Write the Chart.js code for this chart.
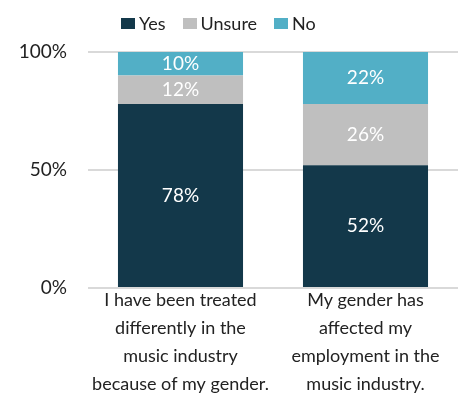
<!DOCTYPE html>
<html>
<head>
<meta charset="utf-8">
<script src="https://cdn.jsdelivr.net/npm/chart.js@4/dist/chart.umd.min.js"></script>
<style>
  html, body { margin: 0; padding: 0; background: #fff; }
  .wrap { position: relative; width: 466px; height: 401px; }
  .legend {
    position: absolute; left: 121px; top: 12px;
    display: flex; align-items: center;
    font-family: Lato, sans-serif;
    font-size: 18px; color: #222;
  }
  .legend span.item { display: flex; align-items: center; margin-right: 17px; }
  .legend i { display: inline-block; width: 14px; height: 11px; margin-right: 4px; }
</style>
</head>
<body>
<div class="wrap">
  <canvas id="chart" width="466" height="401"></canvas>
  <div class="legend" id="legend"></div>
</div>
<script>
const categories = [
  ['I have been treated', 'differently in the', 'music industry', 'because of my gender.'],
  ['My gender has', 'affected my', 'employment in the', 'music industry.']
];
const yesValues = [78, 52];
const unsureValues = [12, 26];
const noValues = [10, 22];
const seriesNames = ['Yes', 'Unsure', 'No'];
const seriesColors = ['#13384a', '#bfbfbf', '#52afc6'];
const yTicks = [0, 50, 100];

const fontFamily = 'Lato, sans-serif';

// legend as plain html, built from the series arrays
const legendEl = document.getElementById('legend');
seriesNames.forEach((name, i) => {
  const item = document.createElement('span');
  item.className = 'item';
  item.innerHTML = '<i style="background:' + seriesColors[i] + '"></i>' + name;
  legendEl.appendChild(item);
});

// draws the white % labels in the middle of each segment
const segmentLabels = {
  id: 'segmentLabels',
  afterDatasetsDraw(chart) {
    const ctx = chart.ctx;
    ctx.save();
    ctx.fillStyle = '#fff';
    ctx.font = '19px ' + fontFamily;
    ctx.textAlign = 'center';
    ctx.textBaseline = 'middle';
    chart.data.datasets.forEach((ds, di) => {
      const meta = chart.getDatasetMeta(di);
      meta.data.forEach((bar, i) => {
        const v = ds.data[i];
        ctx.fillText(v + '%', bar.x, (bar.y + bar.base) / 2);
      });
    });
    ctx.restore();
  }
};

const allValues = [yesValues, unsureValues, noValues];

new Chart(document.getElementById('chart'), {
  type: 'bar',
  data: {
    labels: categories,
    datasets: seriesNames.map((name, i) => ({
      label: name,
      data: allValues[i],
      backgroundColor: seriesColors[i],
      borderWidth: 0,
      categoryPercentage: 1,
      barPercentage: 0.676
    }))
  },
  options: {
    responsive: false,
    animation: false,
    layout: { padding: { top: 52, right: 8, left: 0, bottom: 0 } },
    plugins: {
      legend: { display: false },
      tooltip: { enabled: false }
    },
    scales: {
      x: {
        stacked: true,
        grid: { display: false },
        border: { display: false },
        ticks: {
          color: '#222',
          padding: -10,
          font: { family: fontFamily, size: 18, lineHeight: '28px' },
          maxRotation: 0,
          autoSkip: false
        },
        afterFit(scale) { scale.height = 113; }
      },
      y: {
        stacked: true,
        min: 0,
        max: 100,
        afterBuildTicks(scale) { scale.ticks = yTicks.map(v => ({ value: v })); },
        grid: { color: '#d9d9d9', lineWidth: 2, drawTicks: false },
        border: { display: false },
        ticks: {
          color: '#222',
          padding: 21,
          font: { family: fontFamily, size: 19 },
          callback: v => v + '%'
        },
        afterFit(scale) { scale.width = 88; }
      }
    }
  },
  plugins: [segmentLabels]
});
</script>
</body>
</html>
